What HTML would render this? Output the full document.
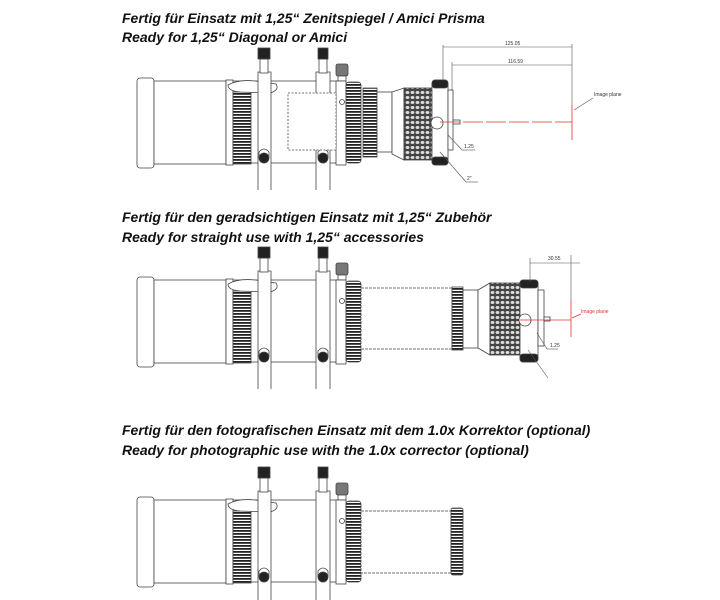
<!DOCTYPE html>
<html><head><meta charset="utf-8"><style>
html,body{margin:0;padding:0;background:#fff;width:720px;height:600px;overflow:hidden}
svg{display:block}
.t{font-family:"Liberation Sans",sans-serif;font-weight:bold;font-style:italic;font-size:14px;fill:#111}
.s{font-family:"Liberation Sans",sans-serif;font-size:5px;fill:#333}
</style></head><body>
<svg width="720" height="600" viewBox="0 0 720 600" xmlns="http://www.w3.org/2000/svg">
<defs>
<pattern id="hs" width="4" height="3" patternUnits="userSpaceOnUse"><rect width="4" height="3" fill="#fff"/><rect width="4" height="1.8" fill="#222"/></pattern>
<pattern id="kn" width="5" height="5" patternUnits="userSpaceOnUse"><rect width="5" height="5" fill="#444"/><ellipse cx="2.5" cy="2.5" rx="1.9" ry="1.5" fill="#ddd"/></pattern>
<g id="base" fill="#fff" stroke="#444" stroke-width="0.8">
  <rect x="137" y="78" width="17" height="90" rx="3"/>
  <rect x="154" y="81" width="72" height="83"/>
  <rect x="226" y="81" width="112" height="82"/>
  <rect x="226" y="80" width="7" height="85"/>
  <rect x="233" y="92" width="18" height="72" fill="url(#hs)"/>
  <path d="M228 85 Q240 78 262 82 L276 84 Q280 90 270 93 L240 92 Q228 91 228 85Z"/>
  <path d="M258 190 L258 72 L271 72 L271 190" />
  <rect x="260" y="59" width="8" height="14"/>
  <rect x="258" y="48" width="12" height="11" fill="#222"/>
  <path d="M259 158 L259 152 Q264 146 269 152 L269 158" fill="#fff"/>
  <circle cx="264" cy="158" r="5" fill="#222"/>
  <path d="M316 190 L316 72 L330 72 L330 190"/>
  <rect x="319" y="59" width="8" height="14"/>
  <rect x="318" y="48" width="10" height="11" fill="#222"/>
  <path d="M318 158 L318 152 Q323 146 328 152 L328 158" fill="#fff"/>
  <circle cx="323" cy="158" r="5" fill="#222"/>
  <rect x="336" y="64" width="12" height="12" rx="2" fill="#777"/>
  <rect x="338" y="76" width="8" height="5"/>
  <rect x="336" y="81" width="10" height="84"/>
  <circle cx="342" cy="102" r="2.5"/>
  <rect x="346" y="82" width="15" height="81" rx="3" fill="url(#hs)"/>
</g>
</defs>

<text class="t" x="122" y="23">Fertig für Einsatz mit 1,25“ Zenitspiegel / Amici Prisma</text>
<text class="t" x="122" y="42">Ready for 1,25“ Diagonal or Amici</text>
<text class="t" x="122" y="222">Fertig für den geradsichtigen Einsatz mit 1,25“ Zubehör</text>
<text class="t" x="122" y="242">Ready for straight use with 1,25“ accessories</text>
<text class="t" x="122" y="435">Fertig für den fotografischen Einsatz mit dem 1.0x Korrektor (optional)</text>
<text class="t" x="122" y="455">Ready for photographic use with the 1.0x corrector (optional)</text>

<use href="#base"/>
<g fill="#fff" stroke="#444" stroke-width="0.8">
  <rect x="288" y="93" width="48" height="57" stroke-dasharray="2 1.5"/>
  <rect x="363" y="88" width="14" height="69" fill="url(#hs)"/>
  <rect x="377" y="92" width="15" height="60"/>
  <path d="M392 92 L404 88 L404 160 L392 154Z"/>
  <rect x="404" y="88" width="28" height="72" fill="url(#kn)"/>
  <rect x="432" y="80" width="16" height="85" rx="3"/>
  <rect x="432" y="80" width="16" height="8" rx="3" fill="#222"/>
  <rect x="432" y="157" width="16" height="8" rx="3" fill="#222"/>
  <rect x="448" y="90" width="5" height="60"/>
  <rect x="453" y="120" width="7" height="4"/>
  <circle cx="437" cy="123" r="6"/>
</g>
<g stroke="#555" stroke-width="0.6" fill="none">
  <line x1="443" y1="45" x2="443" y2="80"/><line x1="452" y1="62" x2="452" y2="90"/>
  <line x1="572" y1="44" x2="572" y2="105"/>
  <line x1="443" y1="47" x2="572" y2="47"/><line x1="452" y1="65" x2="572" y2="65"/>
  <line x1="448" y1="135" x2="462" y2="150"/><line x1="462" y1="150" x2="475" y2="150"/>
  <line x1="440" y1="152" x2="466" y2="182"/><line x1="466" y1="182" x2="478" y2="182"/>
  <line x1="593" y1="98" x2="574" y2="110"/>
</g>
<text class="s" x="505" y="45">125.05</text><text class="s" x="508" y="63">116.59</text>
<text class="s" x="464" y="148">1.25</text><text class="s" x="467" y="180">2"</text>
<text class="s" x="594" y="96">Image plane</text>
<g stroke="#d33" stroke-width="0.8"><line x1="440" y1="122" x2="572" y2="122" stroke-dasharray="20 3"/><line x1="572" y1="105" x2="572" y2="140"/></g>

<use href="#base" y="199"/>
<g fill="#fff" stroke="#444" stroke-width="0.8">
  <rect x="361" y="288" width="91" height="61" stroke-dasharray="3 1"/>
  <rect x="452" y="287" width="11" height="63" fill="url(#hs)"/>
  <rect x="463" y="290" width="15" height="58"/>
  <path d="M478 290 L490 283 L490 355 L478 348Z"/>
  <rect x="490" y="283" width="30" height="72" fill="url(#kn)"/>
  <rect x="520" y="280" width="18" height="82" rx="3"/>
  <rect x="520" y="280" width="18" height="8" rx="3" fill="#222"/>
  <rect x="520" y="354" width="18" height="8" rx="3" fill="#222"/>
  <rect x="538" y="290" width="6" height="56"/>
  <rect x="544" y="317" width="6" height="4"/>
  <circle cx="525" cy="320" r="6"/>
</g>
<g stroke="#555" stroke-width="0.6" fill="none">
  <line x1="530" y1="258" x2="530" y2="282"/><line x1="571" y1="255" x2="571" y2="300"/>
  <line x1="530" y1="263" x2="580" y2="263"/>
  <line x1="537" y1="333" x2="547" y2="349"/><line x1="547" y1="349" x2="558" y2="349"/>
  <line x1="528" y1="350" x2="548" y2="378"/>
</g>
<text class="s" x="548" y="260">30.55</text><text class="s" x="550" y="347">1.25</text>
<text x="581" y="313" style="font-family:'Liberation Sans',sans-serif;font-size:5px;fill:#d33">Image plane</text>
<g stroke="#d33" stroke-width="0.8"><line x1="520" y1="320" x2="571" y2="320"/><line x1="571" y1="300" x2="571" y2="337"/><line x1="581" y1="314" x2="572" y2="318"/></g>

<use href="#base" y="419"/>
<g fill="#fff" stroke="#444" stroke-width="0.8">
  <rect x="361" y="511" width="90" height="62" stroke-dasharray="3 1"/>
  <rect x="451" y="508" width="12" height="67" rx="2" fill="url(#hs)"/>
</g>
</svg>
</body></html>
